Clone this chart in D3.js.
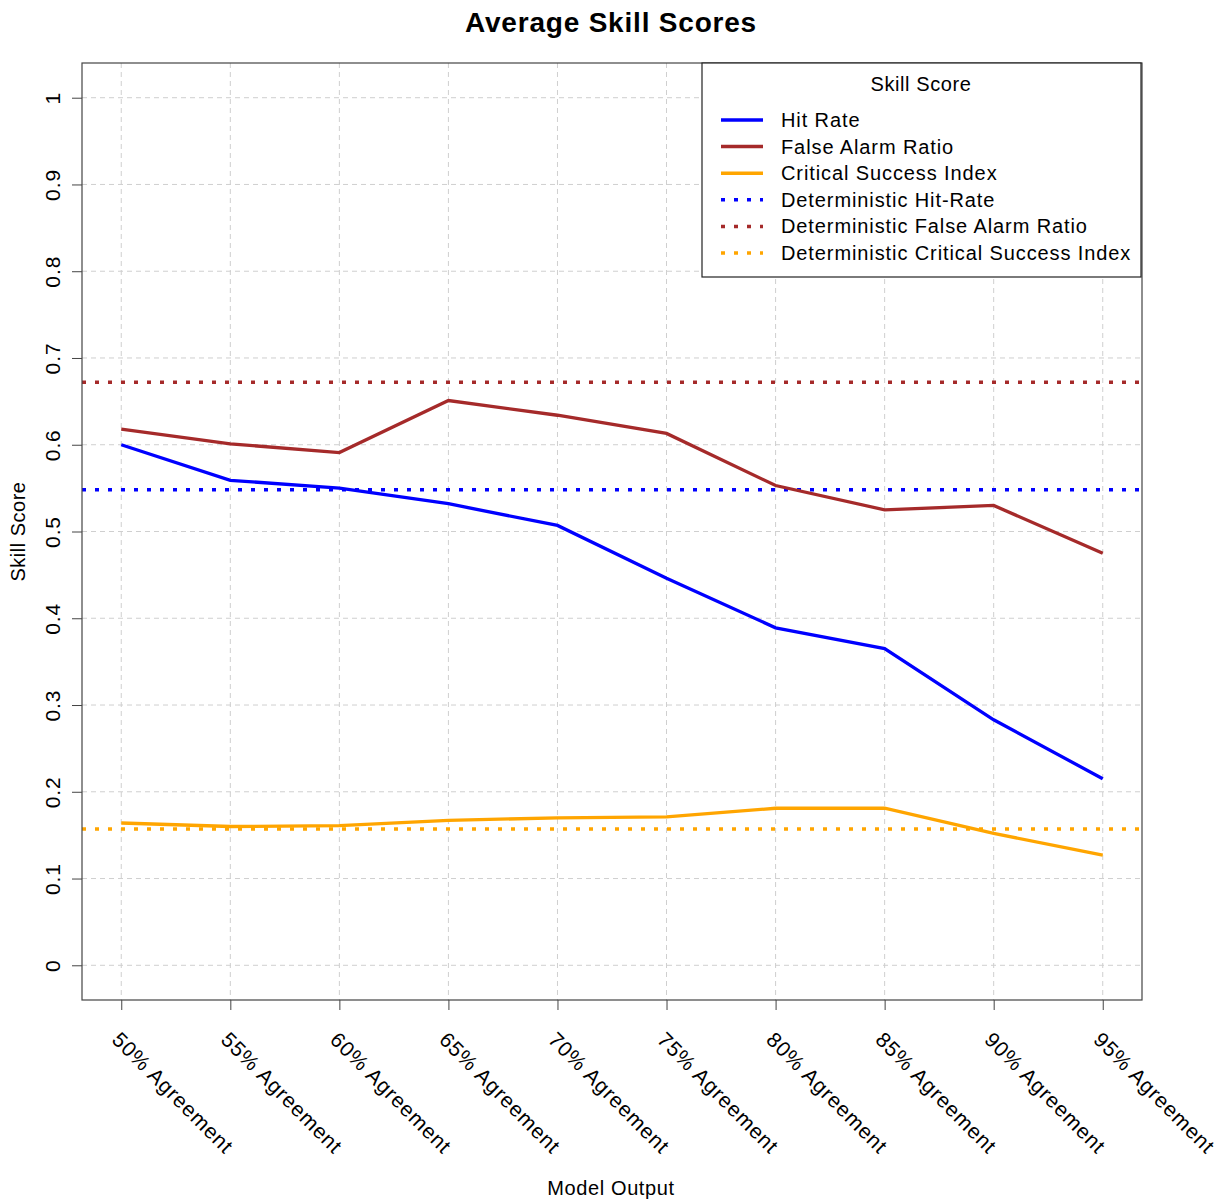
<!DOCTYPE html>
<html>
<head>
<meta charset="utf-8">
<script src="https://cdn.jsdelivr.net/npm/d3@7"></script>
<style>
  body { margin: 0; background: #fff; }
  text { font-family: "Liberation Sans", Arial, sans-serif; fill: #000; }
  .grid line { stroke: #cfcfcf; stroke-width: 1; stroke-dasharray: 5,4; }
  .axis line { stroke: #444; }
  .axis path { display: none; }
  .axis text { font-size: 21px; letter-spacing: 0.9px; }
</style>
</head>
<body>
<svg id="chart" width="1231" height="1203"></svg>
<script>
// categories on the x axis
var categories = ["50% Agreement", "55% Agreement", "60% Agreement", "65% Agreement", "70% Agreement",
                  "75% Agreement", "80% Agreement", "85% Agreement", "90% Agreement", "95% Agreement"];

// series values
var hitRate = [0.600, 0.559, 0.550, 0.532, 0.507, 0.446, 0.389, 0.365, 0.283, 0.215];
var falseAlarmRatio = [0.618, 0.601, 0.591, 0.651, 0.634, 0.613, 0.553, 0.525, 0.530, 0.475];
var criticalSuccess = [0.164, 0.160, 0.161, 0.167, 0.170, 0.171, 0.181, 0.181, 0.152, 0.127];

// deterministic reference values (horizontal dotted lines)
var detHitRate = 0.548;
var detFalseAlarm = 0.672;
var detCritical = 0.157;

// y tick labels
var yTicks = [0, 0.1, 0.2, 0.3, 0.4, 0.5, 0.6, 0.7, 0.8, 0.9, 1];

var svg = d3.select("#chart"),
    box = {left: 82, right: 1142, top: 63, bottom: 1000};

//scales, with the 4% padding R puts on each side
var x = d3.scalePoint().domain(categories).range([box.left, box.right]).padding(0.36);
var y = d3.scaleLinear().domain([-0.04, 1.04]).range([box.bottom, box.top]);

//grid
var grid = svg.append("g").attr("class", "grid");
grid.selectAll(".gx").data(categories).enter().append("line")
    .attr("x1", function(d) { return x(d); }).attr("x2", function(d) { return x(d); })
    .attr("y1", box.top).attr("y2", box.bottom);
grid.selectAll(".gy").data(yTicks).enter().append("line")
    .attr("x1", box.left).attr("x2", box.right)
    .attr("y1", function(d) { return y(d); }).attr("y2", function(d) { return y(d); });

//deterministic dotted lines
var refs = [
  {value: detHitRate, color: "#0000ff"},
  {value: detFalseAlarm, color: "#a52a2a"},
  {value: detCritical, color: "#ffa500"}
];
svg.selectAll(".ref").data(refs).enter().append("line")
    .attr("class", "ref")
    .attr("x1", box.left).attr("x2", box.right)
    .attr("y1", function(d) { return y(d.value); }).attr("y2", function(d) { return y(d.value); })
    .attr("stroke", function(d) { return d.color; })
    .attr("stroke-width", 3.5)
    .attr("stroke-dasharray", "4,9");

//series lines
var series = [
  {name: "Hit Rate", values: hitRate, color: "#0000ff"},
  {name: "False Alarm Ratio", values: falseAlarmRatio, color: "#a52a2a"},
  {name: "Critical Success Index", values: criticalSuccess, color: "#ffa500"}
];
var line = d3.line()
    .x(function(d, i) { return x(categories[i]); })
    .y(function(d) { return y(d); });
svg.selectAll(".series").data(series).enter().append("path")
    .attr("class", "series")
    .attr("d", function(d) { return line(d.values); })
    .attr("fill", "none")
    .attr("stroke", function(d) { return d.color; })
    .attr("stroke-width", 3.3);

//plot box
svg.append("rect")
    .attr("x", box.left).attr("y", box.top)
    .attr("width", box.right - box.left).attr("height", box.bottom - box.top)
    .attr("fill", "none").attr("stroke", "#444").attr("stroke-width", 1.2);

//y axis
var yAxis = svg.append("g")
    .attr("class", "axis")
    .attr("transform", "translate(" + box.left + ",0)")
    .call(d3.axisLeft(y).tickValues(yTicks).tickSize(10).tickFormat(function(d) { return d3.format("")(d); }));
yAxis.selectAll("text")
    .attr("x", 0).attr("y", -22).attr("dy", 0)
    .attr("text-anchor", "middle")
    .attr("transform", "rotate(-90)");

//x axis
var xAxis = svg.append("g")
    .attr("class", "axis")
    .attr("transform", "translate(0," + box.bottom + ")")
    .call(d3.axisBottom(x).tickSize(10));
xAxis.selectAll("text")
    .attr("x", 0).attr("y", 0).attr("dy", 0)
    .attr("text-anchor", "start")
    .attr("transform", "translate(-11,41) rotate(45)");

//titles
svg.append("text")
    .attr("x", 611).attr("y", 32)
    .attr("text-anchor", "middle")
    .style("font-size", "28px").style("font-weight", "bold").style("letter-spacing", "0.8px")
    .text("Average Skill Scores");
svg.append("text")
    .attr("x", 611).attr("y", 1195)
    .attr("text-anchor", "middle")
    .style("font-size", "20px").style("letter-spacing", "0.6px")
    .text("Model Output");
svg.append("text")
    .attr("transform", "translate(25," + ((box.top + box.bottom) / 2) + ") rotate(-90)")
    .attr("text-anchor", "middle")
    .style("font-size", "20px").style("letter-spacing", "0.5px")
    .text("Skill Score");

//legend
var legendItems = [
  {name: "Hit Rate", color: "#0000ff", dotted: false},
  {name: "False Alarm Ratio", color: "#a52a2a", dotted: false},
  {name: "Critical Success Index", color: "#ffa500", dotted: false},
  {name: "Deterministic Hit-Rate", color: "#0000ff", dotted: true},
  {name: "Deterministic False Alarm Ratio", color: "#a52a2a", dotted: true},
  {name: "Deterministic Critical Success Index", color: "#ffa500", dotted: true}
];
var legend = svg.append("g").attr("transform", "translate(702,63)");
legend.append("rect")
    .attr("width", 439).attr("height", 214)
    .attr("fill", "#fff").attr("stroke", "#222").attr("stroke-width", 1.2);
legend.append("text")
    .attr("x", 219).attr("y", 28)
    .attr("text-anchor", "middle")
    .style("font-size", "20px").style("letter-spacing", "0.6px")
    .text("Skill Score");
var entry = legend.selectAll(".entry").data(legendItems).enter().append("g")
    .attr("class", "entry")
    .attr("transform", function(d, i) { return "translate(0," + (57 + i * 26.6) + ")"; });
entry.append("line")
    .attr("x1", 19).attr("x2", 61)
    .attr("stroke", function(d) { return d.color; })
    .attr("stroke-width", 3.5)
    .attr("stroke-dasharray", function(d) { return d.dotted ? "4,9" : null; });
entry.append("text")
    .attr("x", 79).attr("y", 7)
    .style("font-size", "20px").style("letter-spacing", "0.9px")
    .text(function(d) { return d.name; });
</script>
</body>
</html>
